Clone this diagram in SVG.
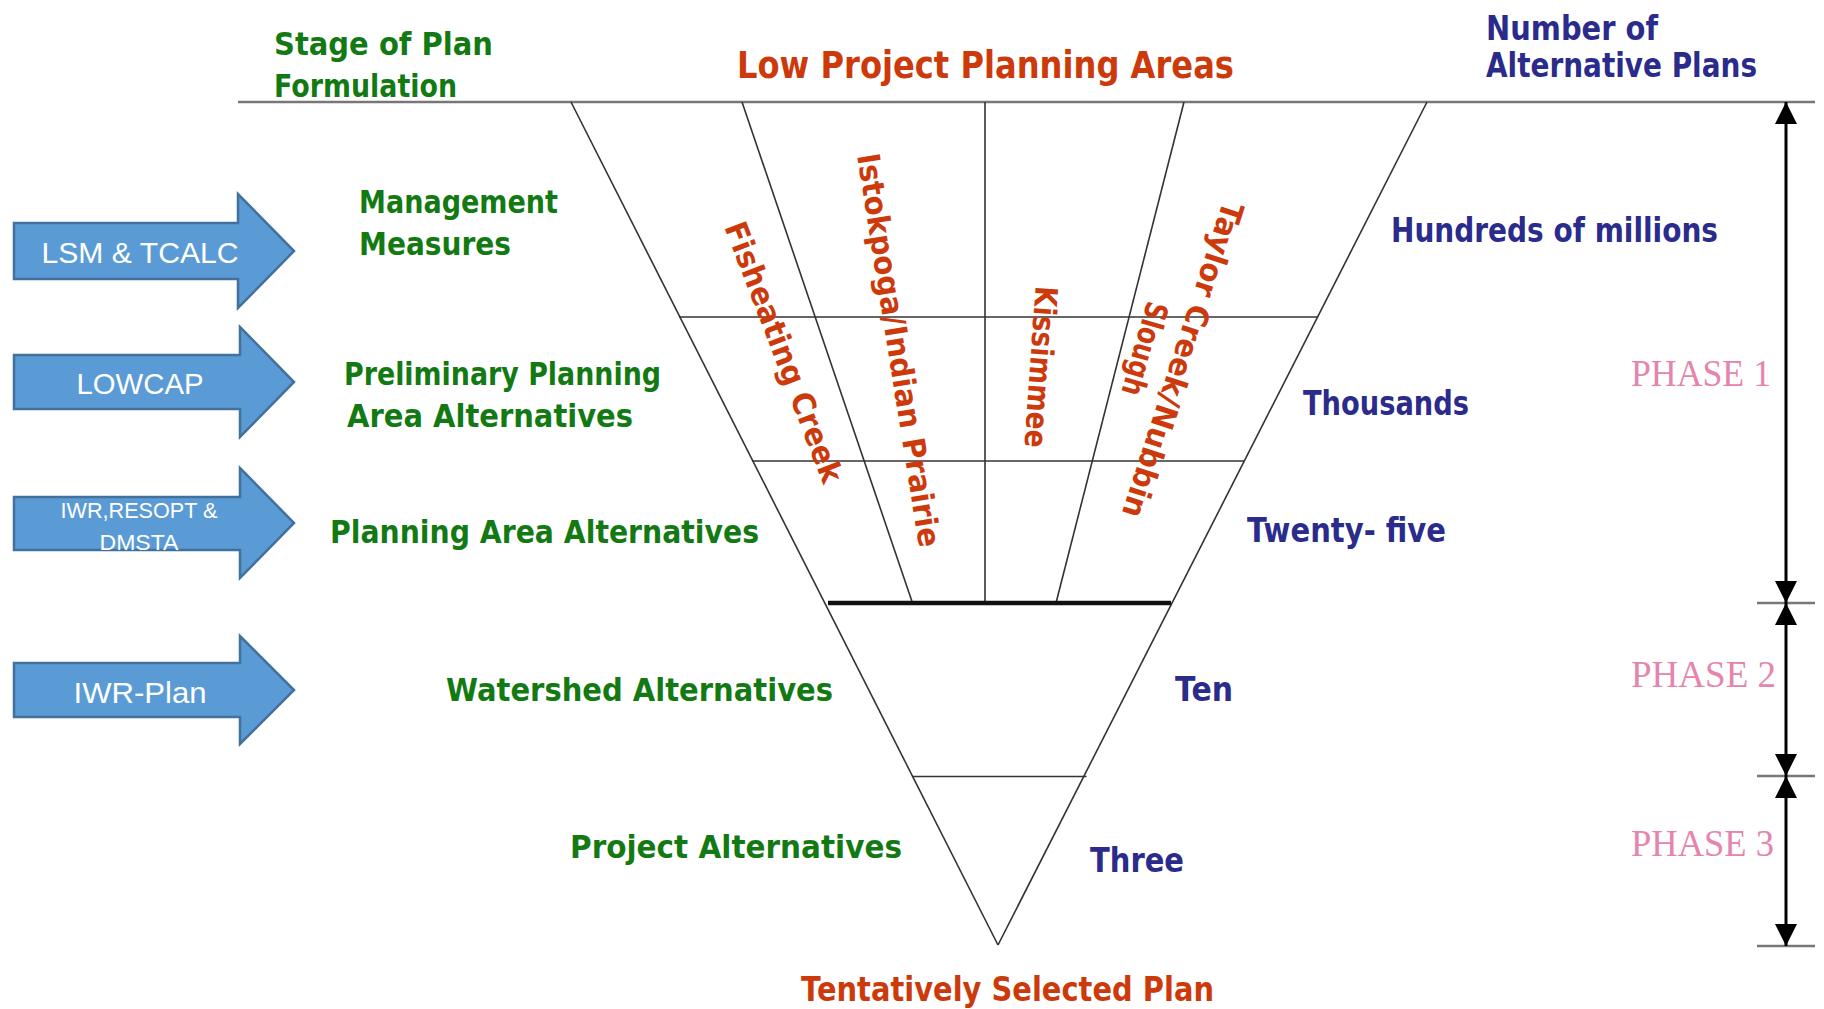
<svg xmlns="http://www.w3.org/2000/svg" width="1824" height="1009" viewBox="0 0 1824 1009">
<style>
.g{font-family:"DejaVu Sans",sans-serif;font-weight:700;fill:#137a13;font-size:32px}
.b{font-family:"DejaVu Sans",sans-serif;font-weight:700;fill:#2b2b8c;font-size:33px}
.r{font-family:"DejaVu Sans",sans-serif;font-weight:700;fill:#cc3a0c}
.rr{font-family:"DejaVu Sans",sans-serif;font-weight:700;fill:#cc3a0c;font-size:31px}
.p{font-family:"Liberation Serif",serif;fill:#e584ad;font-size:37px}
.a{font-family:"Liberation Sans",sans-serif;fill:#ffffff;text-anchor:middle}
.arrow{fill:#5b9bd5;stroke:#41719c;stroke-width:2.5}
.ln{stroke:#333;stroke-width:1.6;fill:none}
.tick{stroke:#777;stroke-width:2.5;fill:none}
.dim{stroke:#000;stroke-width:3;fill:none}
</style>
<defs>
<marker id="ah" markerUnits="userSpaceOnUse" markerWidth="22" markerHeight="22" refX="22" refY="11" orient="auto-start-reverse">
<path d="M0,0 L22,11 L0,22 z" fill="#000"/>
</marker>
</defs>
<rect width="1824" height="1009" fill="#fff"/>

<g id="connectors">
<line class="tick" x1="238" y1="102" x2="1815" y2="102"/>
<line class="ln" x1="571" y1="102" x2="998" y2="945"/>
<line class="ln" x1="1427" y1="102" x2="998" y2="945"/>
<line class="ln" x1="742" y1="102" x2="912.5" y2="603"/>
<line class="ln" x1="985" y1="102" x2="985" y2="603"/>
<line class="ln" x1="1184" y1="102" x2="1056" y2="603"/>
<line class="ln" x1="679" y1="317" x2="1318" y2="317"/>
<line class="ln" x1="752" y1="461" x2="1244" y2="461"/>
<line x1="828" y1="603" x2="1171" y2="603" stroke="#111" stroke-width="4.5"/>
<line class="ln" x1="912.5" y1="776.5" x2="1086.5" y2="776.5"/>
<line class="tick" x1="1757" y1="603" x2="1815" y2="603"/>
<line class="tick" x1="1757" y1="776" x2="1815" y2="776"/>
<line class="tick" x1="1757" y1="946" x2="1815" y2="946"/>
<line class="dim" x1="1786" y1="102" x2="1786" y2="603" marker-start="url(#ah)" marker-end="url(#ah)"/>
<line class="dim" x1="1786" y1="603" x2="1786" y2="776" marker-start="url(#ah)" marker-end="url(#ah)"/>
<line class="dim" x1="1786" y1="776" x2="1786" y2="946" marker-start="url(#ah)" marker-end="url(#ah)"/>
</g>

<g id="tool-lsm">
<path class="arrow" d="M14,223 L238,223 L238,194 L294,251 L238,308 L238,279 L14,279 Z"/>
<text class="a" x="140" y="263" font-size="29" textLength="197" lengthAdjust="spacingAndGlyphs">LSM &amp; TCALC</text>
</g>
<g id="tool-lowcap">
<path class="arrow" d="M14,355 L240,355 L240,327 L294,382 L240,437 L240,409 L14,409 Z"/>
<text class="a" x="140" y="394" font-size="29" textLength="127" lengthAdjust="spacingAndGlyphs">LOWCAP</text>
</g>
<g id="tool-iwr-resopt">
<path class="arrow" d="M14,497 L240,497 L240,468 L294,523 L240,578 L240,550 L14,550 Z"/>
<text class="a" x="139" y="518" font-size="22" textLength="157" lengthAdjust="spacingAndGlyphs">IWR,RESOPT &amp;</text>
<text class="a" x="139" y="550" font-size="22" textLength="79" lengthAdjust="spacingAndGlyphs">DMSTA</text>
</g>
<g id="tool-iwr-plan">
<path class="arrow" d="M14,663 L240,663 L240,636 L294,690 L240,744 L240,717 L14,717 Z"/>
<text class="a" x="140" y="703" font-size="29" textLength="133" lengthAdjust="spacingAndGlyphs">IWR-Plan</text>
</g>

<g id="header-stage">
<text class="g" x="274" y="55" textLength="219" lengthAdjust="spacingAndGlyphs">Stage of Plan</text>
<text class="g" x="274" y="97" textLength="183" lengthAdjust="spacingAndGlyphs">Formulation</text>
</g>
<g id="header-areas">
<text class="r" x="737" y="78" font-size="37" textLength="497" lengthAdjust="spacingAndGlyphs">Low Project Planning Areas</text>
</g>
<g id="header-number">
<text class="b" x="1486" y="40" textLength="172" lengthAdjust="spacingAndGlyphs">Number of</text>
<text class="b" x="1486" y="77" textLength="271" lengthAdjust="spacingAndGlyphs">Alternative Plans</text>
</g>

<g id="stage-management">
<text class="g" x="359" y="213" textLength="199" lengthAdjust="spacingAndGlyphs">Management</text>
<text class="g" x="359" y="255" textLength="152" lengthAdjust="spacingAndGlyphs">Measures</text>
</g>
<g id="stage-preliminary">
<text class="g" x="344" y="385" textLength="317" lengthAdjust="spacingAndGlyphs">Preliminary Planning</text>
<text class="g" x="347" y="427" textLength="286" lengthAdjust="spacingAndGlyphs">Area Alternatives</text>
</g>
<g id="stage-planning-area">
<text class="g" x="330" y="543" textLength="429" lengthAdjust="spacingAndGlyphs">Planning Area Alternatives</text>
</g>
<g id="stage-watershed">
<text class="g" x="446" y="701" textLength="387" lengthAdjust="spacingAndGlyphs">Watershed Alternatives</text>
</g>
<g id="stage-project">
<text class="g" x="570" y="858" textLength="332" lengthAdjust="spacingAndGlyphs">Project Alternatives</text>
</g>

<g id="area-fisheating">
<text class="rr" transform="translate(784,352) rotate(69)" text-anchor="middle" dominant-baseline="central" textLength="277" lengthAdjust="spacingAndGlyphs">Fisheating Creek</text>
</g>
<g id="area-istokpoga">
<text class="rr" transform="translate(899,350) rotate(81)" text-anchor="middle" dominant-baseline="central" textLength="398" lengthAdjust="spacingAndGlyphs">Istokpoga/Indian Prairie</text>
</g>
<g id="area-kissimmee">
<text class="rr" transform="translate(1041,367) rotate(94)" text-anchor="middle" dominant-baseline="central" textLength="162" lengthAdjust="spacingAndGlyphs">Kissimmee</text>
</g>
<g id="area-taylor">
<text class="rr" transform="translate(1183,360) rotate(108)" text-anchor="middle" dominant-baseline="central" textLength="330" lengthAdjust="spacingAndGlyphs">Taylor Creek/Nubbin</text>
<text class="rr" transform="translate(1145,349) rotate(106)" text-anchor="middle" dominant-baseline="central" textLength="96" lengthAdjust="spacingAndGlyphs">Slough</text>
</g>

<g id="count-hundreds">
<text class="b" x="1391" y="242" textLength="327" lengthAdjust="spacingAndGlyphs">Hundreds of millions</text>
</g>
<g id="count-thousands">
<text class="b" x="1303" y="415" textLength="166" lengthAdjust="spacingAndGlyphs">Thousands</text>
</g>
<g id="count-twentyfive">
<text class="b" x="1247" y="542" textLength="199" lengthAdjust="spacingAndGlyphs">Twenty- five</text>
</g>
<g id="count-ten">
<text class="b" x="1175" y="701" textLength="58" lengthAdjust="spacingAndGlyphs">Ten</text>
</g>
<g id="count-three">
<text class="b" x="1090" y="872" textLength="94" lengthAdjust="spacingAndGlyphs">Three</text>
</g>

<g id="phase-1"><text class="p" x="1631" y="386" textLength="140" lengthAdjust="spacingAndGlyphs">PHASE 1</text></g>
<g id="phase-2"><text class="p" x="1631" y="687" textLength="145" lengthAdjust="spacingAndGlyphs">PHASE 2</text></g>
<g id="phase-3"><text class="p" x="1631" y="856" textLength="143" lengthAdjust="spacingAndGlyphs">PHASE 3</text></g>

<g id="result-tsp">
<text class="r" x="801" y="1001" font-size="33" textLength="413" lengthAdjust="spacingAndGlyphs">Tentatively Selected Plan</text>
</g>
</svg>
